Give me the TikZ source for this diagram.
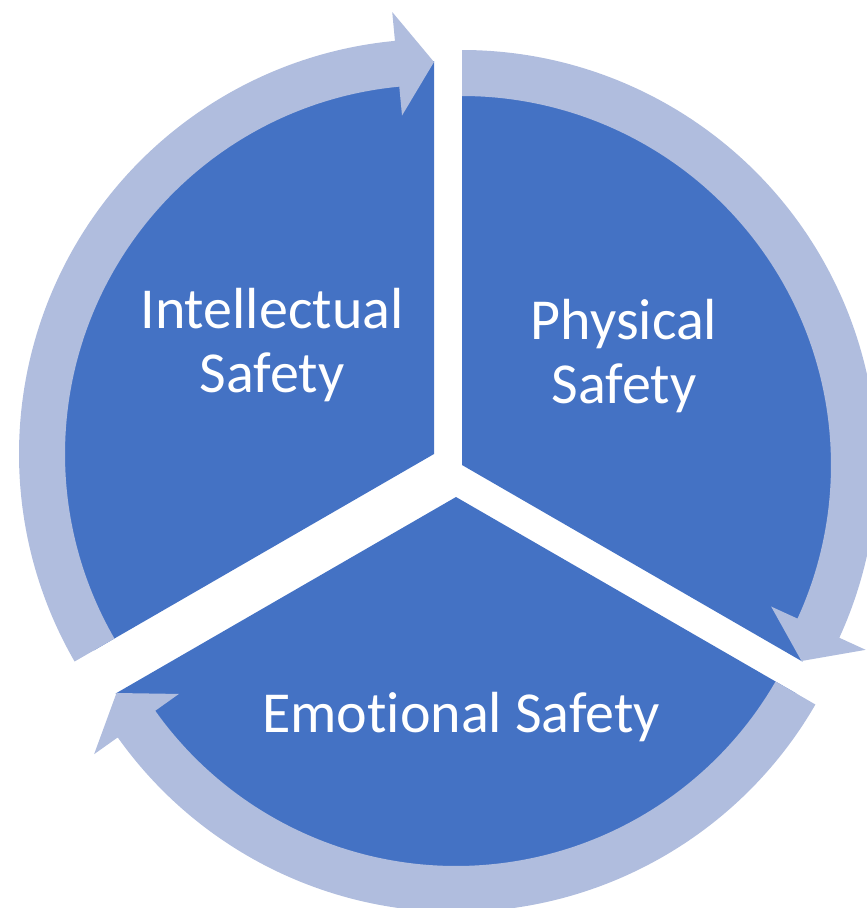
\documentclass[tikz,border=0pt]{standalone}
\usepackage{fontspec}
\setmainfont{Carlito}[Ligatures=NoCommon]
\usetikzlibrary{calc}
\definecolor{pieblue}{RGB}{68,114,196}
\definecolor{ringblue}{RGB}{176,189,222}
\newcommand{\pieR}{393}
\newcommand{\ringIn}{369}
\newcommand{\ringOut}{415}
\newcommand{\headIn}{340}
\newcommand{\headOut}{444}
\newcommand{\tipR}{392}
\newcommand{\headLen}{5.4}
% #1 apex, #2 tail angle, #3 tip angle (arrow runs clockwise from tail to tip)
\newcommand{\cyclearrow}[3]{%
  \begin{scope}[shift={(#1)}]
    \pgfmathsetmacro{\hb}{#3+\headLen}
    \fill[ringarrow] (#2:\ringOut) arc[start angle=#2, end angle=\hb, radius=\ringOut]
      -- (\hb:\headOut) -- (#3:\tipR) -- (\hb:\headIn) -- (\hb:\ringIn)
      arc[start angle=\hb, end angle=#2, radius=\ringIn] -- cycle;
  \end{scope}}
\newcommand{\piepiece}[3]{%
  \begin{scope}[shift={(#1)}]
    \fill[pie] (0,0) -- (#2:\pieR) arc[start angle=#2, end angle=#3, radius=\pieR] -- cycle;
  \end{scope}}
\begin{document}
\begin{tikzpicture}[x=1pt,y=1pt,
  pie/.style={fill=pieblue},
  ringarrow/.style={fill=ringblue},
  safetytext/.style={text=white, align=center, font=\fontsize{58}{64}\selectfont, inner sep=0pt, anchor=base}]
\clip (0,0) rectangle (867,-908);
\coordinate (L) at (434,-454);
\coordinate (R) at (462,-465);
\coordinate (B) at (456,-497);
% pie pieces
\piepiece{L}{90}{210}
\piepiece{R}{-30}{90}
\piepiece{B}{210}{330}
% cycle arrows
\cyclearrow{L}{210}{90}
\cyclearrow{R}{90}{-30}
\cyclearrow{B}{330}{210}
% texts (base anchor = baseline of the last line)
\node[safetytext] (intel) at (272,-392) {Intellectual\\Safety};
\node[safetytext] (phys) at (624,-403) {Physical\\Safety};
\node[safetytext] (emo) at (461,-732) {Emotional Safety};
\end{tikzpicture}
\end{document}
